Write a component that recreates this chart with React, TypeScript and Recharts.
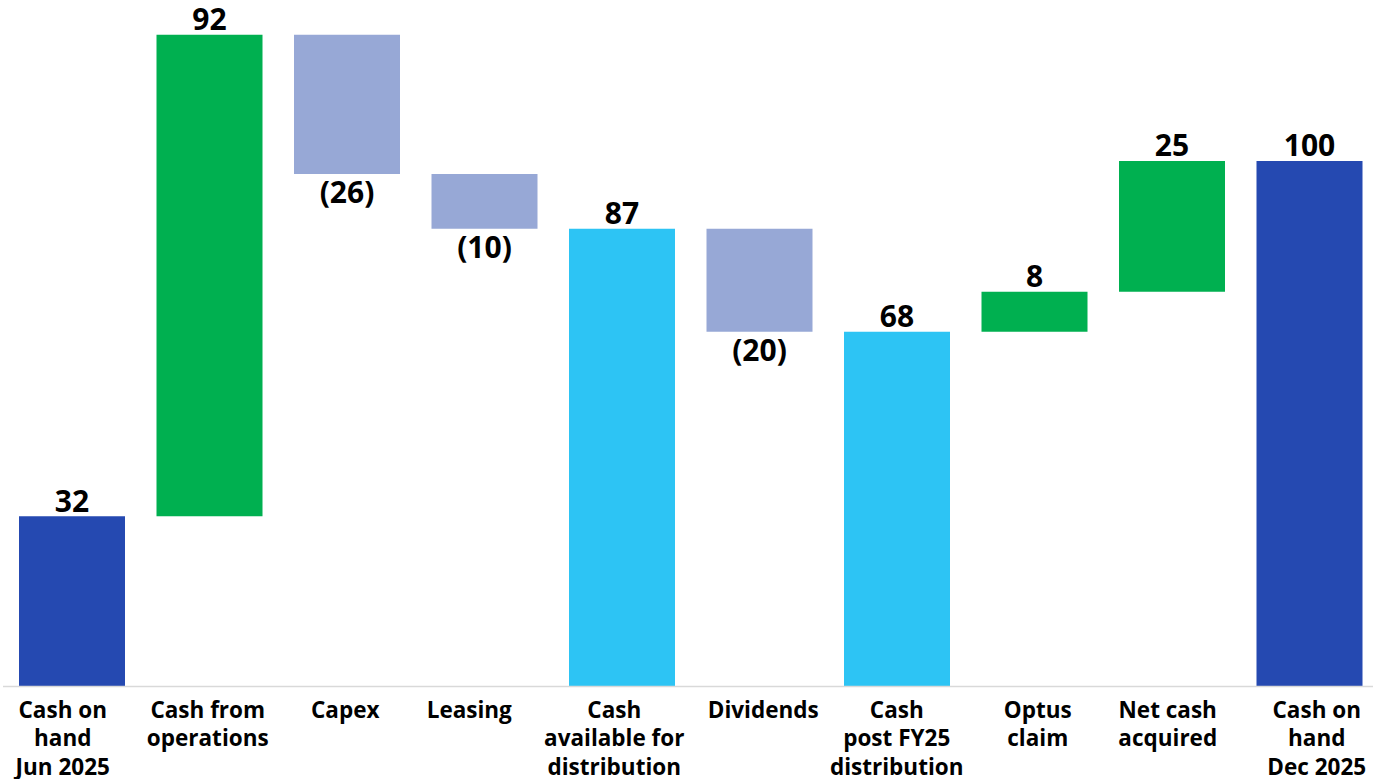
import { BarChart, Bar, XAxis, YAxis, Cell, LabelList } from 'recharts';

const categories = [
  'Cash on|hand|Jun 2025',
  'Cash from|operations',
  'Capex',
  'Leasing',
  'Cash|available for|distribution',
  'Dividends',
  'Cash|post FY25|distribution',
  'Optus|claim',
  'Net cash|acquired',
  'Cash on|hand|Dec 2025',
];
const barLabels = ['32', '92', '(26)', '(10)', '87', '(20)', '68', '8', '25', '100'];
const lowValues = [0, 32.4, 97.5, 87.1, 0, 67.5, 0, 67.5, 75.1, 0];
const highValues = [32.4, 124.0, 124.0, 97.5, 87.1, 87.1, 67.5, 75.1, 100.0, 100.0];
const kinds = ['total', 'up', 'down', 'down', 'subtotal', 'down', 'subtotal', 'up', 'up', 'total'];

const COLORS: Record<string, string> = {
  total: '#2549b1',
  up: '#00b050',
  down: '#97a8d6',
  subtotal: '#2dc4f4',
};
const FONT = '"Open Sans", Lato, sans-serif';
// small horizontal shifts so the category text sits like the original text boxes
const tickNudge = [-9, -1.5, -1.5, -15, -7.5, 4, 0, 3.5, -4, 7.5];

const data = categories.map((c, i) => ({
  name: c,
  range: [lowValues[i], highValues[i]],
}));

const CategoryTick = ({ x, y, payload, index }: any) => {
  const lines = String(payload.value).split('|');
  const dx = tickNudge[index] ?? 0;
  return (
    <text x={x + dx} y={y} textAnchor="middle" fontFamily={FONT} fontWeight={700} fontSize={22.5} fill="#000">
      {lines.map((l, i) => (
        <tspan key={i} x={x + dx} y={y + 23 + i * 28.5}>{l}</tspan>
      ))}
    </text>
  );
};

const BarValue = ({ x, y, width, height, index }: any) => {
  const down = kinds[index] === 'down';
  const cx = x + width / 2;
  const ty = down ? y + height + 29 : y - 4.5;
  return (
    <text x={cx} y={ty} textAnchor="middle" fontFamily={FONT} fontWeight={700} fontSize={30} fill="#000">
      {barLabels[index]}
    </text>
  );
};

export default function App() {
  return (
    <div style={{ position: 'absolute', left: 0, top: 0, width: 1373, height: 779, overflow: 'hidden', background: '#fff' }}>
      <BarChart
        width={1378}
        height={779}
        data={data}
        margin={{ top: 3.3, right: 0, bottom: 0, left: 3 }}
        barSize={106}
      >
        <XAxis
          dataKey="name"
          interval={0}
          height={92.5}
          axisLine={{ stroke: '#d9d9d9', strokeWidth: 1.5 }}
          tickLine={false}
          tick={<CategoryTick />}
        />
        <YAxis hide domain={[0, 130]} />
        <Bar dataKey="range" isAnimationActive={false}>
          {data.map((_, i) => (
            <Cell key={i} fill={COLORS[kinds[i]]} />
          ))}
          <LabelList dataKey="range" content={<BarValue />} />
        </Bar>
      </BarChart>
    </div>
  );
}
